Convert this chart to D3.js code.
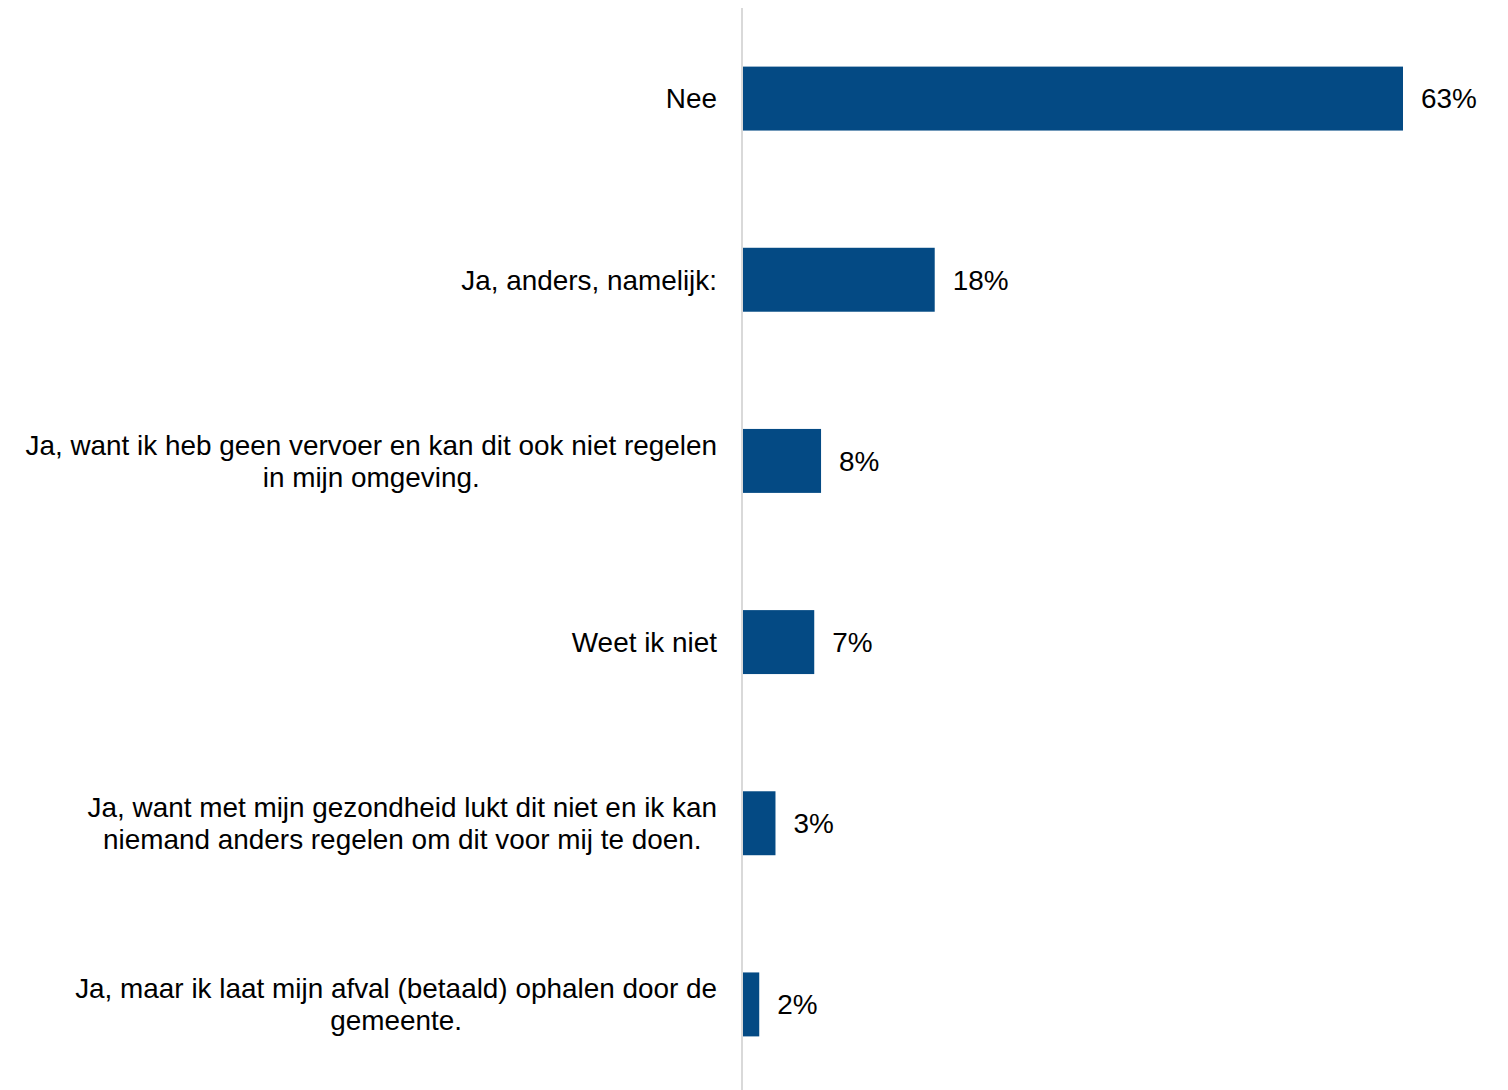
<!DOCTYPE html>
<html>
<head>
<meta charset="utf-8">
<script src="https://cdn.jsdelivr.net/npm/d3@7"></script>
<style>
html, body { margin: 0; padding: 0; background: #ffffff; }
svg { display: block; }
text { font-family: "Liberation Sans", Arial, sans-serif; fill: #000000; }
</style>
</head>
<body>
<svg id="chart" width="1508" height="1090"></svg>
<script>
// Data
const categories = [
  ["Nee"],
  ["Ja, anders, namelijk:"],
  ["Ja, want ik heb geen vervoer en kan dit ook niet regelen", "in mijn omgeving."],
  ["Weet ik niet"],
  ["Ja, want met mijn gezondheid lukt dit niet en ik kan", "niemand anders regelen om dit voor mij te doen."],
  ["Ja, maar ik laat mijn afval (betaald) ophalen door de", "gemeente."]
];
const values = [63, 18.3, 7.45, 6.8, 3.1, 1.55];
const valueLabels = ["63%", "18%", "8%", "7%", "3%", "2%"];

const svg = d3.select("#chart");
const axisX = 742;
const x = d3.scaleLinear().domain([0, 63]).range([743, 1403]);
const y = d3.scaleBand()
  .domain(d3.range(categories.length))
  .range([8, 1095])
  .paddingInner(0.647)
  .paddingOuter(0.3235);

const fontSize = 27.9;
const lineH = 32;

// bars
svg.selectAll("rect.bar")
  .data(values)
  .join("rect")
  .attr("class", "bar")
  .attr("x", x(0))
  .attr("y", (d, i) => y(i))
  .attr("width", d => x(d) - x(0))
  .attr("height", y.bandwidth())
  .attr("fill", "#044a84");

// axis line
svg.append("line")
  .attr("x1", axisX).attr("x2", axisX)
  .attr("y1", 8).attr("y2", 1090)
  .attr("stroke", "#d9d9d9")
  .attr("stroke-width", 2);

// category labels (lines centred within block, block right aligned)
const labelRight = 717;
categories.forEach((lines, i) => {
  const cy = y(i) + y.bandwidth() / 2;
  const g = svg.append("g");
  const texts = lines.map((ln, k) => g.append("text")
    .attr("font-size", fontSize)
    .attr("text-anchor", "middle")
    .attr("y", cy + (k - (lines.length - 1) / 2) * lineH)
    .attr("dy", "0.35em")
    .text(ln));
  const maxW = d3.max(texts, t => t.node().getComputedTextLength());
  texts.forEach(t => t.attr("x", labelRight - maxW / 2));
});

// value labels
svg.selectAll("text.val")
  .data(values)
  .join("text")
  .attr("class", "val")
  .attr("font-size", fontSize)
  .attr("x", d => x(d) + 18)
  .attr("y", (d, i) => y(i) + y.bandwidth() / 2)
  .attr("dy", "0.35em")
  .text((d, i) => valueLabels[i]);
</script>
</body>
</html>
